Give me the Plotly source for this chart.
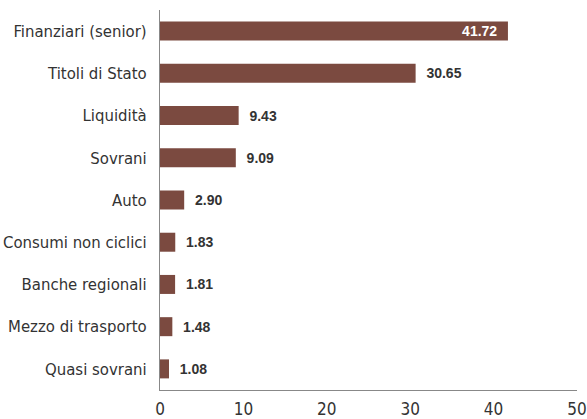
import plotly.graph_objects as go

categories = ["Finanziari (senior)", "Titoli di Stato", "Liquidità", "Sovrani", "Auto",
              "Consumi non ciclici", "Banche regionali", "Mezzo di trasporto", "Quasi sovrani"]
values = [41.72, 30.65, 9.43, 9.09, 2.90, 1.83, 1.81, 1.48, 1.08]
tick_vals = [0, 10, 20, 30, 40, 50]

FONT = "DejaVu Sans Condensed, sans-serif"
VFONT = "Liberation Sans, Arial, sans-serif"
BAR = "#7B4A40"

positions = ["inside" if v > 35 else "outside" for v in values]
texts = [f"{v:.2f}  " if p == "inside" else f"  {v:.2f}" for v, p in zip(values, positions)]

fig = go.Figure(go.Bar(
    x=values, y=categories, orientation="h",
    marker=dict(color=BAR, line=dict(width=0)),
    width=0.45,
    text=texts, textposition=positions, insidetextanchor="end",
    insidetextfont=dict(color="white", size=14, family=VFONT, weight="bold"),
    outsidetextfont=dict(color="#333333", size=14, family=VFONT, weight="bold"),
    cliponaxis=False,
))

fig.update_layout(
    width=587, height=419,
    margin=dict(l=160, r=10, t=10, b=29),
    plot_bgcolor="white", paper_bgcolor="white",
    font=dict(family=FONT, color="#333333", size=17),
    showlegend=False,
    uniformtext=dict(minsize=14, mode="show"),
)
fig.update_xaxes(range=[0, 50], tickvals=tick_vals, showgrid=False, zeroline=False,
                 showline=True, linecolor="#888888", linewidth=1, ticks="",
                 automargin=False, ticklabelstandoff=4,
                 tickfont=dict(size=17, color="#333333"))
fig.update_yaxes(autorange="reversed", showgrid=False, zeroline=False,
                 showline=True, linecolor="#888888", linewidth=1, ticks="",
                 automargin=False, ticklabelstandoff=9,
                 tickfont=dict(size=16.6, color="#333333"))

fig.write_html("out.html", config={"displayModeBar": False},
               post_script="document.body.style.margin='0';")
